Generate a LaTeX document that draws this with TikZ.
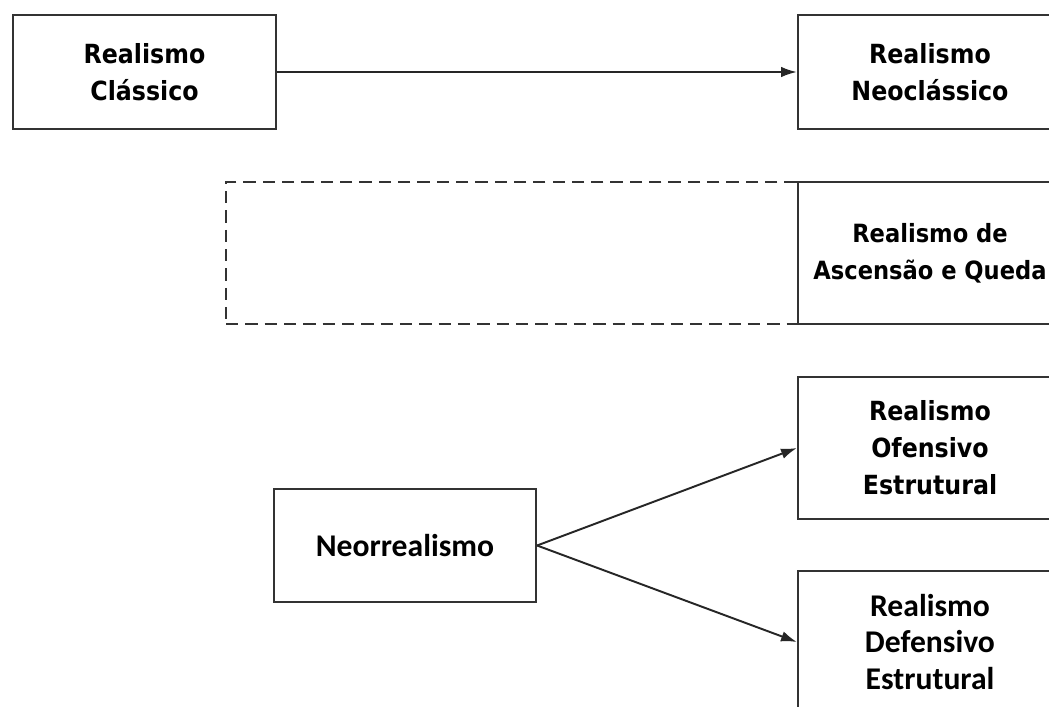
\documentclass[tikz,border=0pt]{standalone}
\usepackage{fontspec}
\setmainfont{Carlito}
\newfontfamily\tahfont{DejaVu Sans Condensed}
\usetikzlibrary{arrows.meta}

\tikzset{
    box/.style={draw=black!80, line width=1.3pt, align=center, inner sep=0pt,
        minimum width=5.28cm, minimum height=2.84cm},
    tah/.style={font=\tahfont\bfseries\fontsize{15}{21}\selectfont},
    cal/.style={font=\bfseries\fontsize{18}{21}\selectfont},
    link/.style={-{Latex[length=9pt, width=6pt]}, line width=1.1pt, black!85},
}

\begin{document}
\begin{tikzpicture}[x=0.02cm, y=-0.02cm]
        \clip (0,0) rectangle (1049,707);
        \fill[white] (0,0) rectangle (1049,707);

        % ===== Top row =====
        \node[box, tah, minimum width=5.26cm, minimum height=2.28cm] (classico) at (144.5,72) {Realismo\\Clássico};
        \node[box, tah, minimum height=2.28cm] (neoclassico) at (930,72) {Realismo\\Neoclássico};
        \draw[link] (classico) -- (neoclassico);

        % ===== Dashed frame =====
        \node[box, dashed, dash pattern=on 7pt off 4pt, minimum width=11.44cm] (vazio) at (512,253) {};
        \node[box, tah, fill=white, font=\tahfont\bfseries\fontsize{14.3}{21}\selectfont] (ascensao) at (930,253) {Realismo de\\Ascensão e Queda};

        % ===== Bottom: neorealism =====
        \node[box, tah] (ofensivo) at (930,448) {Realismo\\Ofensivo\\Estrutural};
        \node[box, cal] (defensivo) at (930,642) {Realismo\\Defensivo\\Estrutural};
        \node[box, cal, minimum width=5.24cm, minimum height=2.26cm] (neo) at (405,545.5) {Neorrealismo};

        \draw[link] (neo.east) -- (ofensivo.west);
        \draw[link] (neo.east) -- (defensivo.west);
    \end{tikzpicture}
\end{document}
